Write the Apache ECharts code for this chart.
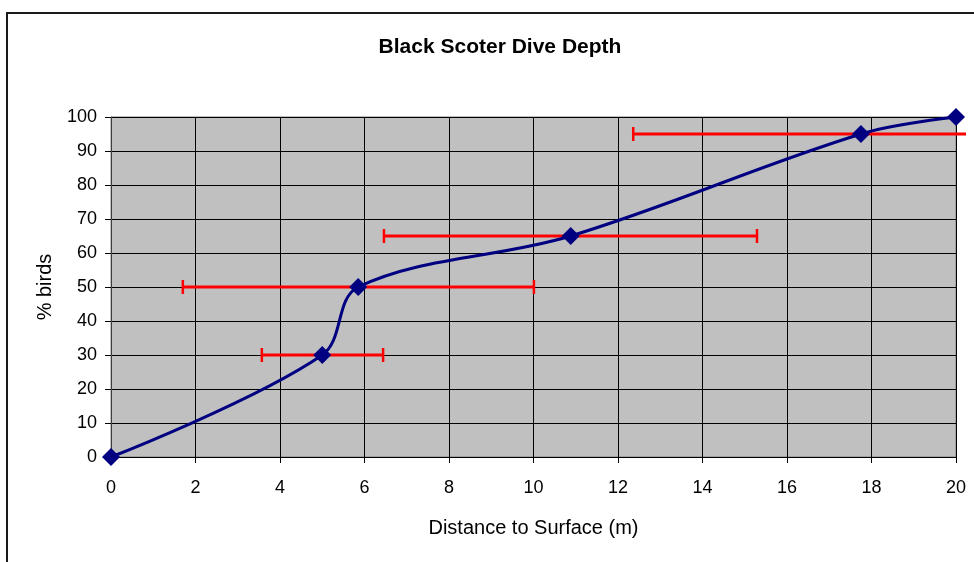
<!DOCTYPE html>
<html>
<head>
<meta charset="utf-8">
<title>Black Scoter Dive Depth</title>
<script src="https://cdn.jsdelivr.net/npm/echarts@6/dist/echarts.min.js"></script>
<style>
  html, body { margin: 0; padding: 0; background: #ffffff; }
  #chart { width: 974px; height: 562px; }
</style>
</head>
<body>
<div id="chart"></div>
<script>
// Cumulative share of birds by dive depth
const depths = [0, 5, 5.85, 10.88, 17.75, 20];
const pctBirds = [0, 30, 50, 65, 95, 100];

// Horizontal spread of depths at each level: [percent, low, high]
const errLevels = [30, 50, 65, 95];
const errLow = [3.57, 1.70, 6.46, 12.36];
const errHigh = [6.44, 10.01, 15.29, 23.15];

const xTicks = [0, 2, 4, 6, 8, 10, 12, 14, 16, 18, 20];
const yTicks = [0, 10, 20, 30, 40, 50, 60, 70, 80, 90, 100];

const FONT = "'Liberation Sans', Arial, sans-serif";

const chart = echarts.init(document.getElementById('chart'), null, { renderer: 'canvas' });

const lineData = depths.map((d, i) => [d, pctBirds[i]]);
const errData = errLevels.map((p, i) => [p, errLow[i], errHigh[i]]);

// Rightmost extent of the chart area; longer bars stop there without a cap
const AREA_RIGHT = 966;

chart.setOption({
  backgroundColor: '#ffffff',
  animation: false,
  title: {
    text: 'Black Scoter Dive Depth',
    left: 495,
    textAlign: 'center',
    top: 32,
    textStyle: { fontFamily: FONT, fontWeight: 'bold', fontSize: 21, color: '#000000' }
  },
  graphic: [{
    type: 'rect',
    shape: { x: 7, y: 13, width: 1000, height: 600 },
    style: { fill: 'none', stroke: '#1a1a1a', lineWidth: 2 },
    silent: true,
    z: -1
  }],
  grid: { left: 111, top: 117, right: 18, bottom: 105, show: true, backgroundColor: '#c0c0c0', borderColor: '#808080', borderWidth: 1 },
  xAxis: {
    type: 'value',
    min: 0, max: 20, interval: 2,
    name: 'Distance to Surface (m)',
    nameLocation: 'middle',
    nameGap: 61,
    nameTextStyle: { fontFamily: FONT, fontSize: 20, color: '#000000' },
    axisLine: { show: true, lineStyle: { color: '#000000', width: 1 } },
    axisTick: { show: true, length: 6, lineStyle: { color: '#000000' } },
    axisLabel: {
      fontFamily: FONT, fontSize: 18, color: '#000000', margin: 22,
      formatter: v => xTicks.includes(v) ? String(v) : ''
    },
    splitLine: { show: true, lineStyle: { color: '#000000', width: 1 } }
  },
  yAxis: {
    type: 'value',
    min: 0, max: 100, interval: 10,
    name: '% birds',
    nameLocation: 'middle',
    nameGap: 56,
    nameTextStyle: { fontFamily: FONT, fontSize: 20, color: '#000000' },
    axisLine: { show: true, lineStyle: { color: '#404040', width: 1 } },
    axisTick: { show: true, length: 6, lineStyle: { color: '#000000' } },
    axisLabel: {
      fontFamily: FONT, fontSize: 18, color: '#000000', margin: 14,
      formatter: v => yTicks.includes(v) ? String(v) : ''
    },
    splitLine: { show: true, lineStyle: { color: '#000000', width: 1 } }
  },
  series: [
    {
      type: 'custom',
      name: 'spread',
      clip: false,
      z: 3,
      data: errData,
      renderItem: function (params, api) {
        const p = api.value(0);
        const a = api.coord([api.value(1), p]);
        const b = api.coord([api.value(2), p]);
        const capped = b[0] <= AREA_RIGHT;
        const xr = Math.min(b[0], AREA_RIGHT);
        const style = { stroke: '#ff0000', lineWidth: 3 };
        const children = [
          { type: 'line', shape: { x1: a[0], y1: a[1], x2: xr, y2: b[1] }, style: style },
          { type: 'line', shape: { x1: a[0], y1: a[1] - 7, x2: a[0], y2: a[1] + 7 }, style: { stroke: '#ff0000', lineWidth: 2.5 } }
        ];
        if (capped) {
          children.push({ type: 'line', shape: { x1: xr, y1: b[1] - 7, x2: xr, y2: b[1] + 7 }, style: { stroke: '#ff0000', lineWidth: 2.5 } });
        }
        return { type: 'group', children: children };
      }
    },
    {
      type: 'line',
      name: '% birds',
      data: lineData,
      smooth: 0.35,
      clip: false,
      z: 5,
      symbol: 'diamond',
      symbolSize: [18, 18],
      lineStyle: { color: '#000080', width: 3 },
      itemStyle: { color: '#000080', borderWidth: 0 }
    }
  ]
});
</script>
</body>
</html>
